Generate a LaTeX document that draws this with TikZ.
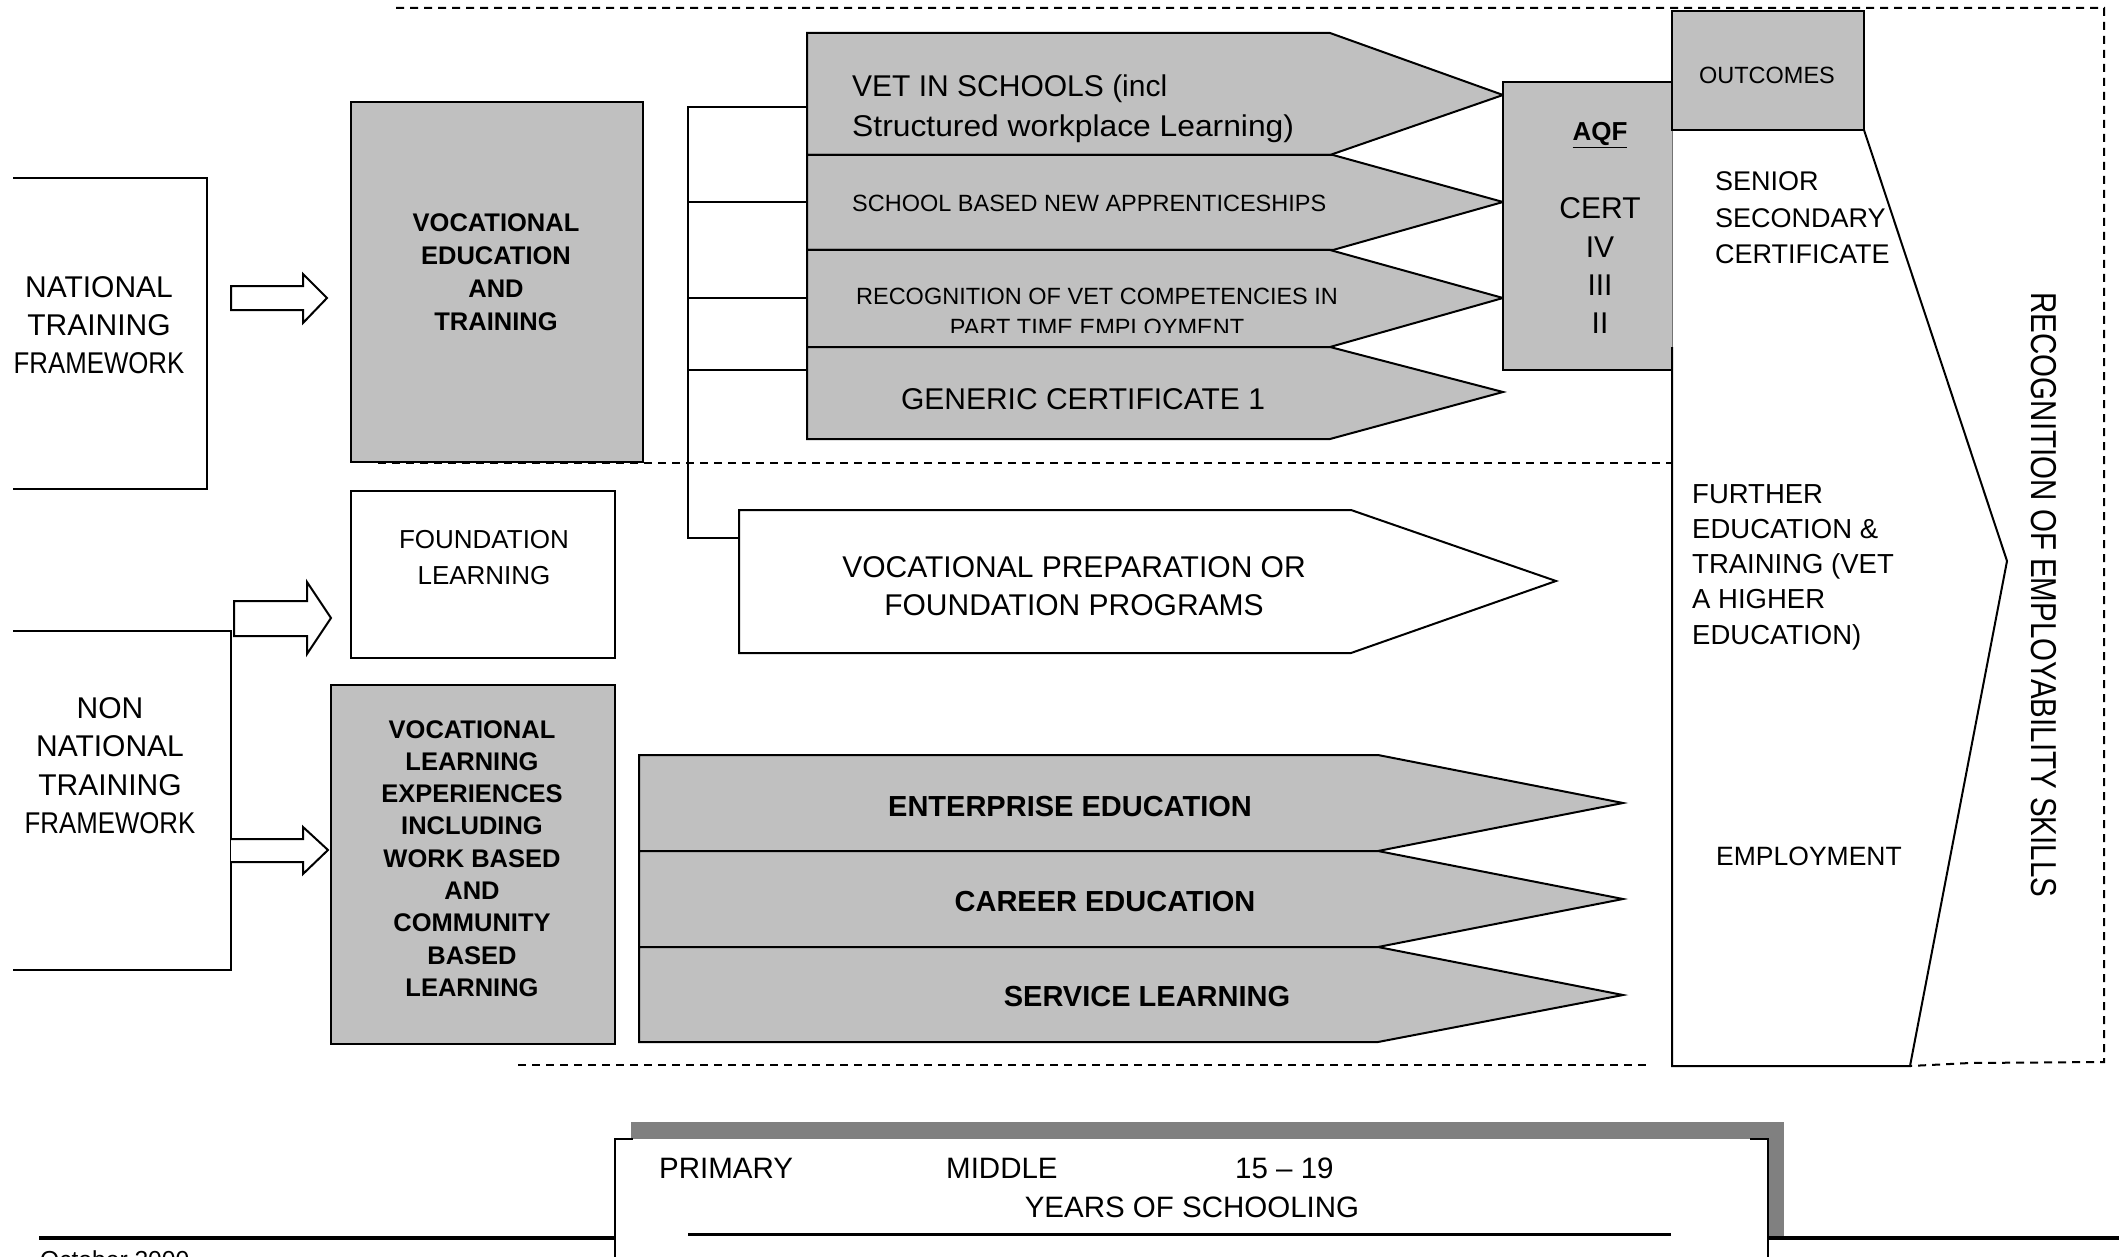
\documentclass[tikz,border=0pt]{standalone}
\usepackage{fontspec}
\usepackage{graphicx}
\setmainfont{Liberation Sans}
\definecolor{boxgray}{RGB}{192,192,192}
\definecolor{shadowgray}{RGB}{128,128,128}
\newcommand\setfs[2]{\fontsize{#1}{#2}\selectfont}
\newcommand\txtblock[2]{\begin{tabular}[t]{@{}#1@{}}#2\end{tabular}}
\newcommand\narrow[1]{\scalebox{0.86}[1]{#1}}
\tikzset{
  outline/.style={draw=black, line width=2pt},
  graybox/.style={fill=boxgray, draw=black, line width=2pt},
  whitebox/.style={fill=white, draw=black, line width=2pt},
  dashline/.style={draw=black, line width=2pt, dash pattern=on 8pt off 6pt},
  bracket/.style={draw=black, line width=1.6pt},
  hollow/.style={fill=white, draw=black, line width=2pt},
  txt/.style={inner sep=0pt, anchor=base},
  ltxt/.style={inner sep=0pt, anchor=base west},
}
\begin{document}
\begin{tikzpicture}[x=1pt, y=-1pt]
\useasboundingbox (0,0) rectangle (2119,1257);
\fill[white] (0,0) rectangle (2119,1257);

% ---- outer dashed frames
\draw[dashline] (396,8) -- (2104,8) -- (2104,1062) -- (1970,1063) -- (1910,1066);
\draw[dashline] (518,1065) -- (1646,1065);

% ---- framework boxes (open on the left)
\draw[outline] (13,178) -- (207,178) -- (207,489) -- (13,489);
\draw[outline] (13,631) -- (231,631) -- (231,970) -- (13,970);
\node[txt] (ntf) at (99,297) {\setfs{30}{38}\txtblock{c}{NATIONAL\\TRAINING\\\narrow{FRAMEWORK}}};
\node[txt] (nntf) at (110,718) {\setfs{30}{38.5}\txtblock{c}{NON\\NATIONAL\\TRAINING\\\narrow{FRAMEWORK}}};

% ---- hollow block arrows
\draw[hollow] (231,286) -- (303,286) -- (303,274) -- (327,298) -- (303,323) -- (303,310) -- (231,310) -- cycle;
\draw[hollow] (234,601) -- (307,601) -- (307,582) -- (331,618) -- (307,654) -- (307,636) -- (234,636) -- cycle;
\draw[hollow] (231,839) -- (303,839) -- (303,827) -- (328,850) -- (303,874) -- (303,862) -- (231,862);

% ---- left column boxes
\draw[graybox] (351,102) rectangle (643,462);
\node[txt] (vet) at (496,232) {\setfs{25.5}{32.7}\bfseries\txtblock{c}{VOCATIONAL\\EDUCATION\\AND\\TRAINING}};
\draw[whitebox] (351,491) rectangle (615,658);
\node[txt] (found) at (484,548) {\setfs{26}{36}\txtblock{c}{FOUNDATION\\LEARNING}};
\draw[graybox] (331,685) rectangle (615,1044);
\node[txt] (vle) at (472,738) {\setfs{25.5}{32.3}\bfseries\txtblock{c}{VOCATIONAL\\LEARNING\\EXPERIENCES\\INCLUDING\\WORK BASED\\AND\\COMMUNITY\\BASED\\LEARNING}};

% ---- middle dashed divider
\draw[dashline] (378,463) -- (1672,463);

% ---- VET pathway arrows
\draw[graybox] (807,33) -- (1330,33) -- (1503,95) -- (1330,155) -- (807,155) -- cycle;
\draw[graybox] (807,155) -- (1333,155) -- (1503,202) -- (1333,250) -- (807,250) -- cycle;
\draw[graybox] (807,250) -- (1330,250) -- (1503,298) -- (1330,347) -- (807,347) -- cycle;
\draw[graybox] (807,347) -- (1330,347) -- (1503,392) -- (1330,439) -- (807,439) -- cycle;
\coordinate (p1) at (807,107);
\coordinate (p2) at (807,202);
\coordinate (p3) at (807,298);
\coordinate (p4) at (807,370);
\node[ltxt] (vis) at (852,97) {\setfs{30}{40}\txtblock{l}{VET IN SCHOOLS (incl\\\scalebox{1.06}[1]{Structured workplace Learning)}}};
\node[ltxt] (sbna) at (852,212) {\setfs{23.5}{28}SCHOOL BASED NEW APPRENTICESHIPS};
\begin{scope}
  \clip (807,250) rectangle (1503,332);
  \node[txt] (rvc) at (1097,305) {\setfs{23.5}{30}\txtblock{c}{RECOGNITION OF VET COMPETENCIES IN\\PART TIME EMPLOYMENT}};
\end{scope}
\node[txt] (gen) at (1083,409) {\setfs{30}{36}GENERIC CERTIFICATE 1};

% ---- foundation programs arrow
\draw[whitebox] (739,510) -- (1351,510) -- (1556,581) -- (1351,653) -- (739,653) -- cycle;
\coordinate (pv) at (739,538);
\node[txt] (vprep) at (1074,577) {\setfs{30}{38}\txtblock{c}{VOCATIONAL PREPARATION OR\\FOUNDATION PROGRAMS}};

% ---- bracket joining the pathways
\coordinate (bt) at (688,107);
\coordinate (bb) at (688,538);
\draw[bracket] (p1) -- (bt) -- (bb) -- (pv);
\draw[bracket] (bt |- p2) -- (p2);
\draw[bracket] (bt |- p3) -- (p3);
\draw[bracket] (bt |- p4) -- (p4);

% ---- non-framework learning arrows
\draw[graybox] (639,755) -- (1378,755) -- (1623,803) -- (1378,851) -- (639,851) -- cycle;
\draw[graybox] (639,851) -- (1378,851) -- (1623,899) -- (1378,947) -- (639,947) -- cycle;
\draw[graybox] (639,947) -- (1378,947) -- (1623,995) -- (1378,1042) -- (639,1042) -- cycle;
\node[txt] (ent) at (1070,816) {\setfs{29}{34}\bfseries ENTERPRISE EDUCATION};
\node[txt] (car) at (1105,911) {\setfs{29}{34}\bfseries CAREER EDUCATION};
\node[txt] (ser) at (1147,1006) {\setfs{29}{34}\bfseries SERVICE LEARNING};

% ---- AQF levels
\fill[boxgray] (1503,82) rectangle (1672,370);
\draw[outline] (1672,82) -- (1503,82) -- (1503,370) -- (1672,370);
\draw[black!55, line width=0.8pt] (1672,82) -- (1672,347);
\node[txt] (aqf) at (1600,141) {\setfs{26}{30}\bfseries\underline{AQF}};
\node[txt] (cert) at (1600,219) {\setfs{30}{38.2}\txtblock{c}{CERT\\IV\\III\\II}};

% ---- outcomes column
\draw[outline] (1672,347) -- (1672,1066) -- (1910,1066) -- (2007,561) -- (1864,130);
\draw[graybox] (1672,11) rectangle (1864,130);
\node[txt] (outc) at (1767,84) {\setfs{23.5}{28}OUTCOMES};
\node[ltxt] (ssc) at (1715,191) {\setfs{27}{36.5}\txtblock{l}{SENIOR\\SECONDARY\\CERTIFICATE}};
\node[ltxt] (fet) at (1692,503) {\setfs{27.5}{35.25}\txtblock{l}{FURTHER\\EDUCATION \&\\TRAINING (VET\\A HIGHER\\EDUCATION)}};
\node[ltxt] (emp) at (1716,865) {\setfs{26.5}{30}EMPLOYMENT};
\node[inner sep=0pt, rotate=-90, anchor=center] (res) at (2044,595)
  {\setfs{36}{36}\scalebox{0.82}[1]{RECOGNITION OF EMPLOYABILITY SKILLS}};

% ---- years of schooling panel
\fill[shadowgray] (631,1122) rectangle (1784,1240);
\draw[black, line width=3.5pt] (39,1238) -- (2119,1238);
\fill[white] (615,1139) rectangle (1768,1300);
\draw[outline] (615,1300) -- (615,1139) -- (633,1139);
\draw[outline] (1750,1139) -- (1768,1139) -- (1768,1300);
\draw[black, line width=3pt] (688,1234) -- (1671,1234);
\node[ltxt] (prim) at (659,1178) {\setfs{29.5}{34}PRIMARY};
\node[ltxt] (mid) at (946,1178) {\setfs{29.5}{34}MIDDLE};
\node[ltxt] (age) at (1235,1178) {\setfs{29.5}{34}15 – 19};
\node[txt] (yrs) at (1192,1217) {\setfs{29.5}{34}YEARS OF SCHOOLING};
\node[ltxt] (date) at (40,1268) {\setfs{24.6}{30}October 2000};
\end{tikzpicture}
\end{document}
